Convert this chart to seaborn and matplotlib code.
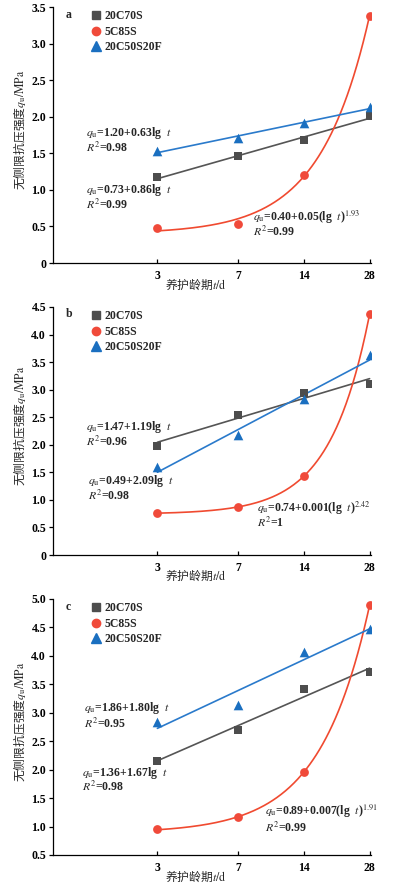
import numpy as np
import pandas as pd
import matplotlib
matplotlib.use('Agg')
import matplotlib.pyplot as plt
from matplotlib.lines import Line2D
from matplotlib.ticker import FixedLocator, FuncFormatter, NullLocator
import seaborn as sns

sns.set_style('ticks')
plt.rcParams['font.family'] = ['Liberation Serif', 'Noto Sans CJK SC']
plt.rcParams['mathtext.fontset'] = 'stix'

# curing age (d)
ages = [3, 7, 14, 28]
series = ['20C70S', '5C85S', '20C50S20F']

# UCS values (MPa)
a_20c70s = [1.17, 1.46, 1.68, 2.01]
a_5c85s = [0.48, 0.54, 1.21, 3.38]
a_20c50s20f = [1.53, 1.71, 1.91, 2.13]

b_20c70s = [1.98, 2.54, 2.94, 3.11]
b_5c85s = [0.76, 0.87, 1.43, 4.37]
b_20c50s20f = [1.59, 2.17, 2.83, 3.63]

c_20c70s = [2.16, 2.70, 3.41, 3.72]
c_5c85s = [0.95, 1.16, 1.96, 4.89]
c_20c50s20f = [2.84, 3.14, 4.06, 4.48]

colors = {'20C70S': '#4d4d4d', '5C85S': '#f04a3a', '20C50S20F': '#1a6fc0'}
line_colors = {'20C70S': '#555555', '5C85S': '#f04a30', '20C50S20F': '#2a7acb'}
markers = {'20C70S': 's', '5C85S': 'o', '20C50S20F': '^'}
msizes = {'20C70S': 36, '5C85S': 40, '20C50S20F': 48}

panels = [
    dict(tag='a', vals=[a_20c70s, a_5c85s, a_20c50s20f], ylim=(0, 3.5),
         ann=[('$q_\\mathrm{u}$=1.20+0.63lg  $t$', 1.41, 1.78),
              ('$R^2$=0.98', 1.41, 1.58),
              ('$q_\\mathrm{u}$=0.73+0.86lg  $t$', 1.41, 1.00),
              ('$R^2$=0.99', 1.41, 0.80),
              ('$q_\\mathrm{u}$=0.40+0.05(lg  $t$)$^{1.93}$', 8.2, 0.63),
              ('$R^2$=0.99', 8.2, 0.43)]),
    dict(tag='b', vals=[b_20c70s, b_5c85s, b_20c50s20f], ylim=(0, 4.5),
         ann=[('$q_\\mathrm{u}$=1.47+1.19lg  $t$', 1.41, 2.33),
              ('$R^2$=0.96', 1.41, 2.06),
              ('$q_\\mathrm{u}$=0.49+2.09lg  $t$', 1.45, 1.34),
              ('$R^2$=0.98', 1.45, 1.07),
              ('$q_\\mathrm{u}$=0.74+0.001(lg  $t$)$^{2.42}$', 8.6, 0.85),
              ('$R^2$=1', 8.6, 0.59)]),
    dict(tag='c', vals=[c_20c70s, c_5c85s, c_20c50s20f], ylim=(0.5, 5.0),
         ann=[('$q_\\mathrm{u}$=1.86+1.80lg  $t$', 1.38, 3.08),
              ('$R^2$=0.95', 1.38, 2.81),
              ('$q_\\mathrm{u}$=1.36+1.67lg  $t$', 1.36, 1.94),
              ('$R^2$=0.98', 1.36, 1.69),
              ('$q_\\mathrm{u}$=0.89+0.007(lg  $t$)$^{1.91}$', 9.3, 1.27),
              ('$R^2$=0.99', 9.3, 0.98)]),
]

positions = [[0.1349, 0.7038, 0.809, 0.2883],
             [0.1349, 0.3750, 0.809, 0.2793],
             [0.1349, 0.0372, 0.809, 0.2883]]

t = np.array(ages, dtype=float)
t_fine = np.geomspace(3, 28, 200)


def power_fit(x, y):
    # y = a + b * x**c, grid over c with linear least squares
    best = None
    for c in np.linspace(0.5, 4.0, 701):
        X = np.column_stack([np.ones_like(x), x ** c])
        coef = np.linalg.lstsq(X, y, rcond=None)[0]
        err = np.sum((X @ coef - y) ** 2)
        if best is None or err < best[0]:
            best = (err, coef, c)
    return best[1], best[2]


fig = plt.figure(figsize=(3.93, 8.88), dpi=100)

for p, pos in zip(panels, positions):
    ax = fig.add_axes(pos)
    df = pd.DataFrame({'age': np.tile(ages, 3),
                       'ucs': np.concatenate(p['vals']),
                       'mix': np.repeat(series, 4)})

    # fit lines
    for name, y in zip(series, p['vals']):
        y = np.array(y)
        if name == '5C85S':
            coef, c = power_fit(t, y)
            yf = coef[0] + coef[1] * t_fine ** c
        else:
            k, b0 = np.polyfit(np.log10(t), y, 1)
            yf = b0 + k * np.log10(t_fine)
        sns.lineplot(x=t_fine, y=yf, ax=ax, color=line_colors[name], lw=1.2)

    for name in series:
        sub = df[df['mix'] == name]
        sns.scatterplot(data=sub, x='age', y='ucs', ax=ax, color=colors[name],
                        marker=markers[name], s=msizes[name], linewidth=0,
                        zorder=3, legend=False)

    ax.set_xscale('log')
    ax.set_xlim(1.0, 28.4)
    ax.set_ylim(*p['ylim'])
    ax.xaxis.set_major_locator(FixedLocator(ages))
    ax.xaxis.set_minor_locator(NullLocator())
    ax.xaxis.set_major_formatter(FuncFormatter(lambda v, _: '%d' % v))
    ax.set_yticks(np.arange(p['ylim'][0], p['ylim'][1] + 0.01, 0.5))
    ax.yaxis.set_major_formatter(FuncFormatter(lambda v, _: '0' if abs(v) < 1e-9 else '%.1f' % v))

    sns.despine(ax=ax)
    for s in ['left', 'bottom']:
        ax.spines[s].set_linewidth(0.9)
        ax.spines[s].set_color('black')
    ax.tick_params(axis='x', direction='in', length=3, width=0.9, pad=5,
                   labelsize=8.5, colors='black')
    ax.tick_params(axis='y', direction='out', length=3, width=0.9, pad=2,
                   labelsize=8.5, colors='black')
    for lab in ax.get_xticklabels() + ax.get_yticklabels():
        lab.set_fontweight('bold')

    ax.set_xlabel('养护龄期$t/\\mathrm{d}$', fontsize=8.5, family=['Noto Sans CJK SC'])
    ax.xaxis.set_label_coords(0.45, -0.052)
    ax.set_ylabel('无侧限抗压强度$q_\\mathrm{u}/\\mathrm{MPa}$', fontsize=8.5,
                  family=['Noto Sans CJK SC'])
    ax.yaxis.set_label_coords(-0.078, 0.52)

    handles = [Line2D([], [], ls='none', marker=markers[n], color=colors[n],
                      markersize=6 if n != '20C50S20F' else 7) for n in series]
    ax.legend(handles, series, loc='upper left', bbox_to_anchor=(0.09, 1.02),
              frameon=False, handlelength=1.0, handletextpad=0.2,
              labelspacing=0.3, borderpad=0.2, prop={'size': 8.5, 'weight': 'bold'})

    ax.text(0.04, 0.97, p['tag'], transform=ax.transAxes, fontsize=8.5,
            fontweight='bold', va='center', ha='left')

    for txt, x, y in p['ann']:
        ax.text(x, y, txt, fontsize=8.5, fontweight='bold', va='center', ha='left')

fig.savefig('out.png', dpi=100)
